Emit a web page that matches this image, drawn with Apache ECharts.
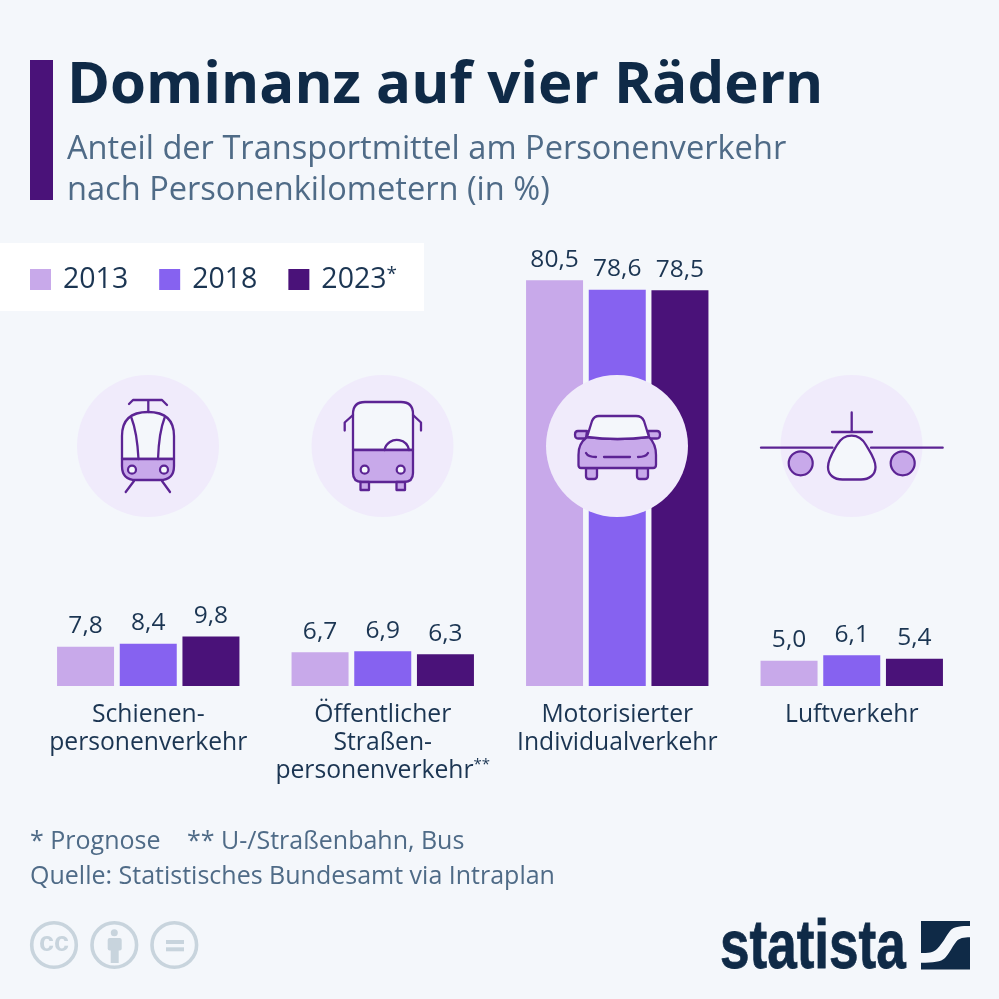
<!DOCTYPE html>
<html><head><meta charset="utf-8">
<script src="https://cdn.jsdelivr.net/npm/echarts@6/dist/echarts.min.js"></script>
<style>html,body{margin:0;padding:0;background:#f4f7fb}#c{width:999px;height:999px}</style>
</head><body><div id="c"></div>
<script>
const categories = ['Schienen-\npersonenverkehr','Öffentlicher\nStraßen-\npersonenverkehr**','Motorisierter\nIndividualverkehr','Luftverkehr'];
const years = ['2013','2018','2023*'];
const values2013 = [7.8,6.7,80.5,5.0];
const values2018 = [8.4,6.9,78.6,6.1];
const values2023 = [9.8,6.3,78.5,5.4];
const BG='#f4f7fb',INK='#0f2a47',TXT='#1b3552',MUTE='#4f6b87',L='#c8a9ea',M='#8662f0',D='#4a1279',ST='#5c2494',CIR='#f0ebfb',CC='#c8d4dd';

let n=0;
function P(d,fill,stroke,lw){const name='ic'+(n++);
  echarts.graphic.registerShape(name,echarts.graphic.extendPath(d,{}));
  return {type:name,z:50,style:{fill:fill||'none',stroke:stroke===undefined?ST:stroke,lineWidth:lw||2.3,lineCap:'round',lineJoin:'round'}};}
function C(x,y,r,fill,stroke,lw,z){return {type:'circle',z:z||50,shape:{cx:x,cy:y,r},style:{fill:fill||'none',stroke:stroke||null,lineWidth:lw||0}};}
function R(x,y,w,h,fill,z,r){return {type:'rect',z:z||50,shape:{x,y,width:w,height:h,r:r||0},style:{fill}};}
function T(x,y,text,size,fill,weight){return {type:'text',z:60,style:{x,y,text,fill,fontFamily:'"Open Sans"',fontSize:size,fontWeight:weight||400,verticalAlign:'middle'}};}

const icons=[
 C(148,446,71,CIR,null,0,40),C(382.5,446,71,CIR,null,0,40),C(617,446,71,CIR,null,0,40),C(851.5,446,71,CIR,null,0,40),
 // tram
 P('M122 459V436Q122 412 148 412Q174 412 174 436V459Z',BG),
 P('M122 459H174V466Q174 480 160 480H136Q122 480 122 466Z',L),
 P('M131.5 418Q137 432 138.5 459M164.5 418Q159 432 158 459'),
 P('M129 404L133 400H162L167 405M148.3 400V412M134 481L125.7 492M162 481L170 492'),
 C(132,469.7,4,BG,ST,2.2),C(164,469.7,4,BG,ST,2.2),
 // bus
 P('M353 450V414Q353 402 365 402H401Q413 402 413 414V450Z',BG),
 P('M353 450H413V473Q413 482 404 482H362Q353 482 353 473Z',L),
 P('M353 415L344.7 422.5V430.5M413 415L421 422.5V430.5'),
 P('M384.5 450A12.5 12.5 0 0 1 409 450',null),
 P('M360.5 482H369V490H360.5ZM396.5 482H405V490H396.5Z',L),
 C(364.7,469.7,4,BG,ST,2.2),C(400.7,469.7,4,BG,ST,2.2),
 // car
 P('M587 431H578Q575 431 575 434.5Q575 438.5 578 438.5H586ZM648 431H657Q660 431 660 434.5Q660 438.5 657 438.5H649Z',L),
 P('M586 468H597V476Q597 479 594 479H589Q586 479 586 476ZM637 468H648V476Q648 479 645 479H640Q637 479 637 476Z',L),
 P('M587 437Q578 444 578.5 455V465Q578.5 468 581 468H653Q656 468 656 465V455Q656 444 649 437Q617 441 587 437Z',L),
 P('M587 437L592 421Q594 416 599 416H636Q642 416 644 421L649 437Q617 441 587 437Z',BG),
 P('M586 453Q588 457 596 457M604 457H630M638 457Q646 457 648 453'),
 // plane
 P('M761 447.7H832.5M871 447.7H942.7M851.7 412.5V432M832 432H872M844 450.5Q852 456 860 450.5'),
 P('M851.7 435.7C858 435.7 862 438 866 445C870 452 875.5 459 875.5 467C875.5 475 869 479.5 861 479.5H842.5C834 479.5 828 475 828 467C828 459 833 452 837 445C841 438 845 435.7 851.7 435.7Z',BG),
 C(800.7,463.3,12,L,ST,2.2),C(902.7,463.3,12,L,ST,2.2)
];

const deco=[
 R(30,60,23,140,D,5),
 T(67,86,'Dominanz auf vier Rädern',58.2,INK,700),
 T(67,150,'Anteil der Transportmittel am Personenverkehr',32.6,MUTE),
 T(67,191,'nach Personenkilometern (in %)',32.6,MUTE),
 T(30,842,'* Prognose',25,MUTE),
 T(187,842,'** U-/Straßenbahn, Bus',25,MUTE),
 T(30,877,'Quelle: Statistisches Bundesamt via Intraplan',25,MUTE),
 C(54,945,22.3,'none',CC,3.6),C(114.3,945,22.3,'none',CC,3.6),C(174.3,945,22.3,'none',CC,3.6),
 {type:'text',z:60,style:{x:54,y:944,text:'cc',fill:CC,fontFamily:'"Liberation Sans"',fontWeight:700,fontSize:27,align:'center',verticalAlign:'middle'}},
 C(114.3,932.7,3.5,CC),R(107.7,938,14,12.5,CC,60,2),R(110.7,950,8,13,CC,60),
 R(166,940,18,4,CC),R(166,947.3,18,4,CC),
 {type:'text',z:60,x:720,y:983,scaleX:0.78,style:{x:0,y:0,text:'statista',fill:INK,stroke:INK,lineWidth:0.8,fontFamily:'"Liberation Sans"',fontWeight:700,fontSize:68,verticalAlign:'bottom'}},
 R(921,921,49,48.5,INK),
 P('M921 953C928 953 933 953 937 949C943 943 946 936 950 931C954 926 962 926 970 926V937.3C964 937.3 959 938 956 942C952 947 949 954 945 958C941 962 933 962.7 921 962.7Z',BG,null)
];

const chart=echarts.init(document.getElementById('c'),null,{renderer:'canvas'});
const lab={show:true,position:'top',distance:8,color:TXT,fontFamily:'"Open Sans"',fontSize:24.5,formatter:p=>p.value.toFixed(1).replace('.',',')};
function S(name,data,color){return {name,type:'bar',data,barWidth:57,barGap:'10%',itemStyle:{color},label:lab,silent:true,z:10};}
chart.setOption({
 animation:false,backgroundColor:BG,
 grid:{left:31,right:30,top:182,bottom:313,containLabel:false},
 legend:{show:true,left:0,top:243,z:20,icon:'rect',itemWidth:21,itemHeight:21,itemGap:31,backgroundColor:'#ffffff',padding:[22,27,17,30],
   data:years,selectedMode:false,formatter:v=>v.replace('*','{s|*}'),
   textStyle:{color:TXT,fontFamily:'"Open Sans"',fontSize:28.5,padding:[0,0,0,7],rich:{s:{fontSize:19,fontFamily:'"Open Sans"',color:TXT,verticalAlign:'top',lineHeight:28}}}},
 xAxis:{type:'category',data:categories,axisLine:{show:false},axisTick:{show:false},
   axisLabel:{interval:0,margin:15,color:TXT,fontFamily:'"Open Sans"',fontSize:24.7,lineHeight:28,verticalAlign:'top',
     formatter:v=>v.replace('**','{s|**}'),rich:{s:{fontSize:15,fontFamily:'"Open Sans"',color:TXT,verticalAlign:'top',lineHeight:28}}}},
 yAxis:{type:'value',min:0,max:100,show:false},
 series:[S(years[0],values2013,L),S(years[1],values2018,M),S(years[2],values2023,D)],
 graphic:{elements:[...deco,...icons]}
});
</script></body></html>
